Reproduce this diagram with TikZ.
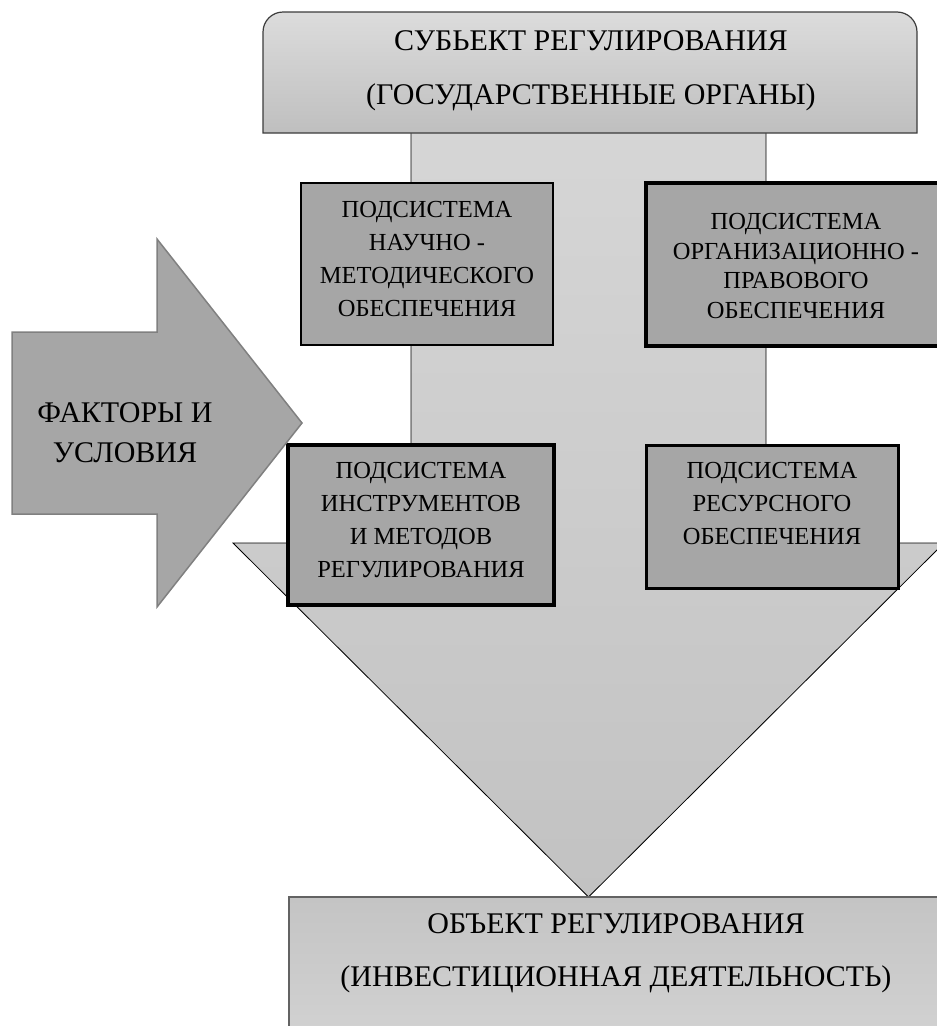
\documentclass[tikz,border=0pt]{standalone}
\usepackage{fontspec}
\setmainfont{Liberation Serif}
\definecolor{boxgray}{HTML}{A6A6A6}
\definecolor{shafttop}{HTML}{D6D6D6}
\definecolor{shaftbot}{HTML}{C2C2C2}
\definecolor{headtop}{HTML}{DCDCDC}
\definecolor{headbot}{HTML}{BFBFBF}
\definecolor{objtop}{HTML}{C4C4C4}
\definecolor{objbot}{HTML}{D2D2D2}
\definecolor{edgegray}{HTML}{3C3C3C}
\definecolor{arrowedge}{HTML}{808080}
\tikzset{
  subbox/.style={draw=black, fill=boxgray, inner sep=0pt},
  subtext/.style={anchor=north, inner sep=0pt, align=center, text=black,
    font=\fontsize{24.5}{33}\selectfont},
  bigtext/.style={anchor=north, inner sep=0pt, align=center, text=black,
    font=\fontsize{30}{54}\selectfont},
}
\begin{document}
\begin{tikzpicture}[x=1pt,y=-1pt]
\path[use as bounding box] (0,0) rectangle (937,1026);
\clip (0,0) rectangle (937,1026);

% big down arrow
\draw[black, line width=0.8pt, top color=shafttop, bottom color=shaftbot]
  (411,120) -- (411,543) -- (233,543) -- (588.5,897) -- (944,543)
  -- (766,543) -- (766,120) -- cycle;

% bottom box (object)
\draw[draw=edgegray!80, line width=1.6pt, top color=objtop, bottom color=objbot]
  (289,1040) -- (289,897) -- (943,897) -- (943,1040);
\node[bigtext, font=\fontsize{30}{53}\selectfont] (obj) at (616,913.3)
  {ОБЪЕКТ РЕГУЛИРОВАНИЯ\\(ИНВЕСТИЦИОННАЯ ДЕЯТЕЛЬНОСТЬ)};

% top box (subject)
\draw[draw=edgegray, line width=1.2pt, top color=headtop, bottom color=headbot]
  (263,133) -- (263,32) arc[start angle=180, end angle=270, radius=20]
  -- (897,12) arc[start angle=270, end angle=360, radius=20]
  -- (917,133) -- cycle;
\node[bigtext] (subj) at (591,30)
  {СУБЬЕКТ РЕГУЛИРОВАНИЯ\\(ГОСУДАРСТВЕННЫЕ ОРГАНЫ)};

% subsystem boxes
\node[subbox, line width=2.5pt, minimum width=252pt, minimum height=162pt] (A) at (427,264) {};
\node[subtext] (At) at (427,200.7) {ПОДСИСТЕМА\\НАУЧНО -\\МЕТОДИЧЕСКОГО\\ОБЕСПЕЧЕНИЯ};

\node[subbox, line width=4pt, minimum width=300pt, minimum height=163pt] (B) at (796,264.5) {};
\node[subtext, font=\fontsize{24.5}{29.5}\selectfont] (Bt) at (796,213.3)
  {ПОДСИСТЕМА\\ОРГАНИЗАЦИОННО -\\ПРАВОВОГО\\ОБЕСПЕЧЕНИЯ};

\node[subbox, line width=3.5pt, minimum width=266pt, minimum height=160pt] (C) at (421,525) {};
\node[subtext] (Ct) at (421,461.7) {ПОДСИСТЕМА\\ИНСТРУМЕНТОВ\\И МЕТОДОВ\\РЕГУЛИРОВАНИЯ};

\node[subbox, line width=3pt, minimum width=252pt, minimum height=143pt] (D) at (772,516.5) {};
\node[subtext] (Dt) at (772,461.7) {ПОДСИСТЕМА\\РЕСУРСНОГО\\ОБЕСПЕЧЕНИЯ};

% left arrow (factors)
\draw[draw=arrowedge, line width=1.5pt, fill=boxgray]
  (12,332) -- (157,332) -- (157,239) -- (302,423) -- (157,607)
  -- (157,514) -- (12,514) -- cycle;
\node[bigtext, font=\fontsize{30}{40}\selectfont] (fac) at (125,402.5)
  {ФАКТОРЫ И\\УСЛОВИЯ};
\end{tikzpicture}
\end{document}
